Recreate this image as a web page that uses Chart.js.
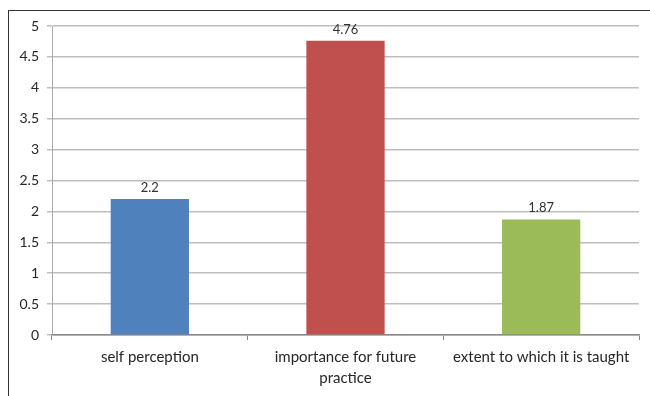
<!DOCTYPE html>
<html>
<head>
<meta charset="utf-8">
<script src="https://cdn.jsdelivr.net/npm/chart.js@4"></script>
<style>
    body { margin: 0; background: #fff; }
    #wrap { position: relative; width: 650px; height: 396px; overflow: hidden; }
    #frame { position: absolute; left: 8px; top: 10px; right: -5px; bottom: -5px; border-left: 1.5px solid #333; border-top: 1.5px solid #333; }
</style>
</head>
<body>
<div id="wrap">
    <canvas id="grafico" width="650" height="396"></canvas>
    <div id="frame"></div>
</div>
<script>
const categorias = ['self perception', ['importance for future', 'practice'], 'extent to which it is taught'];
const valores = [2.2, 4.76, 1.87];
const cores = ['#4f81bd', '#c0504d', '#9bbb59'];

// escreve o valor em cima de cada barra
const rotulosBarras = {
    id: 'rotulosBarras',
    afterDatasetsDraw(chart) {
        const ctx = chart.ctx;
        const meta = chart.getDatasetMeta(0);
        ctx.save();
        ctx.font = '13px Lato, "Open Sans", sans-serif';
        ctx.fillStyle = '#333';
        ctx.textAlign = 'center';
        ctx.textBaseline = 'bottom';
        meta.data.forEach((barra, i) => {
            const p = barra.getProps(['x', 'y'], true);
            ctx.fillText(String(valores[i]), p.x, p.y - 5);
        });
        ctx.restore();
    }
};

const ctx = document.getElementById('grafico').getContext('2d');
new Chart(ctx, {
    type: 'bar',
    data: {
        labels: categorias,
        datasets: [{
            data: valores,
            backgroundColor: cores,
            borderColor: cores,
            borderWidth: 0,
            barPercentage: 0.4,
            categoryPercentage: 1
        }]
    },
    options: {
        responsive: false,
        animation: false,
        layout: { padding: { top: 26, right: 11, left: 0, bottom: 0 } },
        plugins: {
            legend: { display: false },
            tooltip: { enabled: false }
        },
        scales: {
            x: {
                grid: { drawOnChartArea: false, drawTicks: true, tickLength: 5, color: '#888' },
                border: { color: '#888', width: 1.5 },
                ticks: {
                    color: '#262626',
                    font: { family: 'Lato, "Open Sans", sans-serif', size: 15, lineHeight: 1.4 },
                    padding: 7,
                    maxRotation: 0
                },
                afterFit(scale) { scale.height = 61; }
            },
            y: {
                min: 0,
                max: 5,
                ticks: {
                    stepSize: 0.5,
                    color: '#262626',
                    font: { family: 'Lato, "Open Sans", sans-serif', size: 14 },
                    padding: 8,
                    callback: (v) => String(v)
                },
                grid: { color: '#bdbdbd', lineWidth: 1.5, tickLength: 5 },
                border: { color: '#aaa', width: 1 },
                afterFit(scale) { scale.width = 52; }
            }
        }
    },
    plugins: [rotulosBarras]
});
</script>
</body>
</html>
